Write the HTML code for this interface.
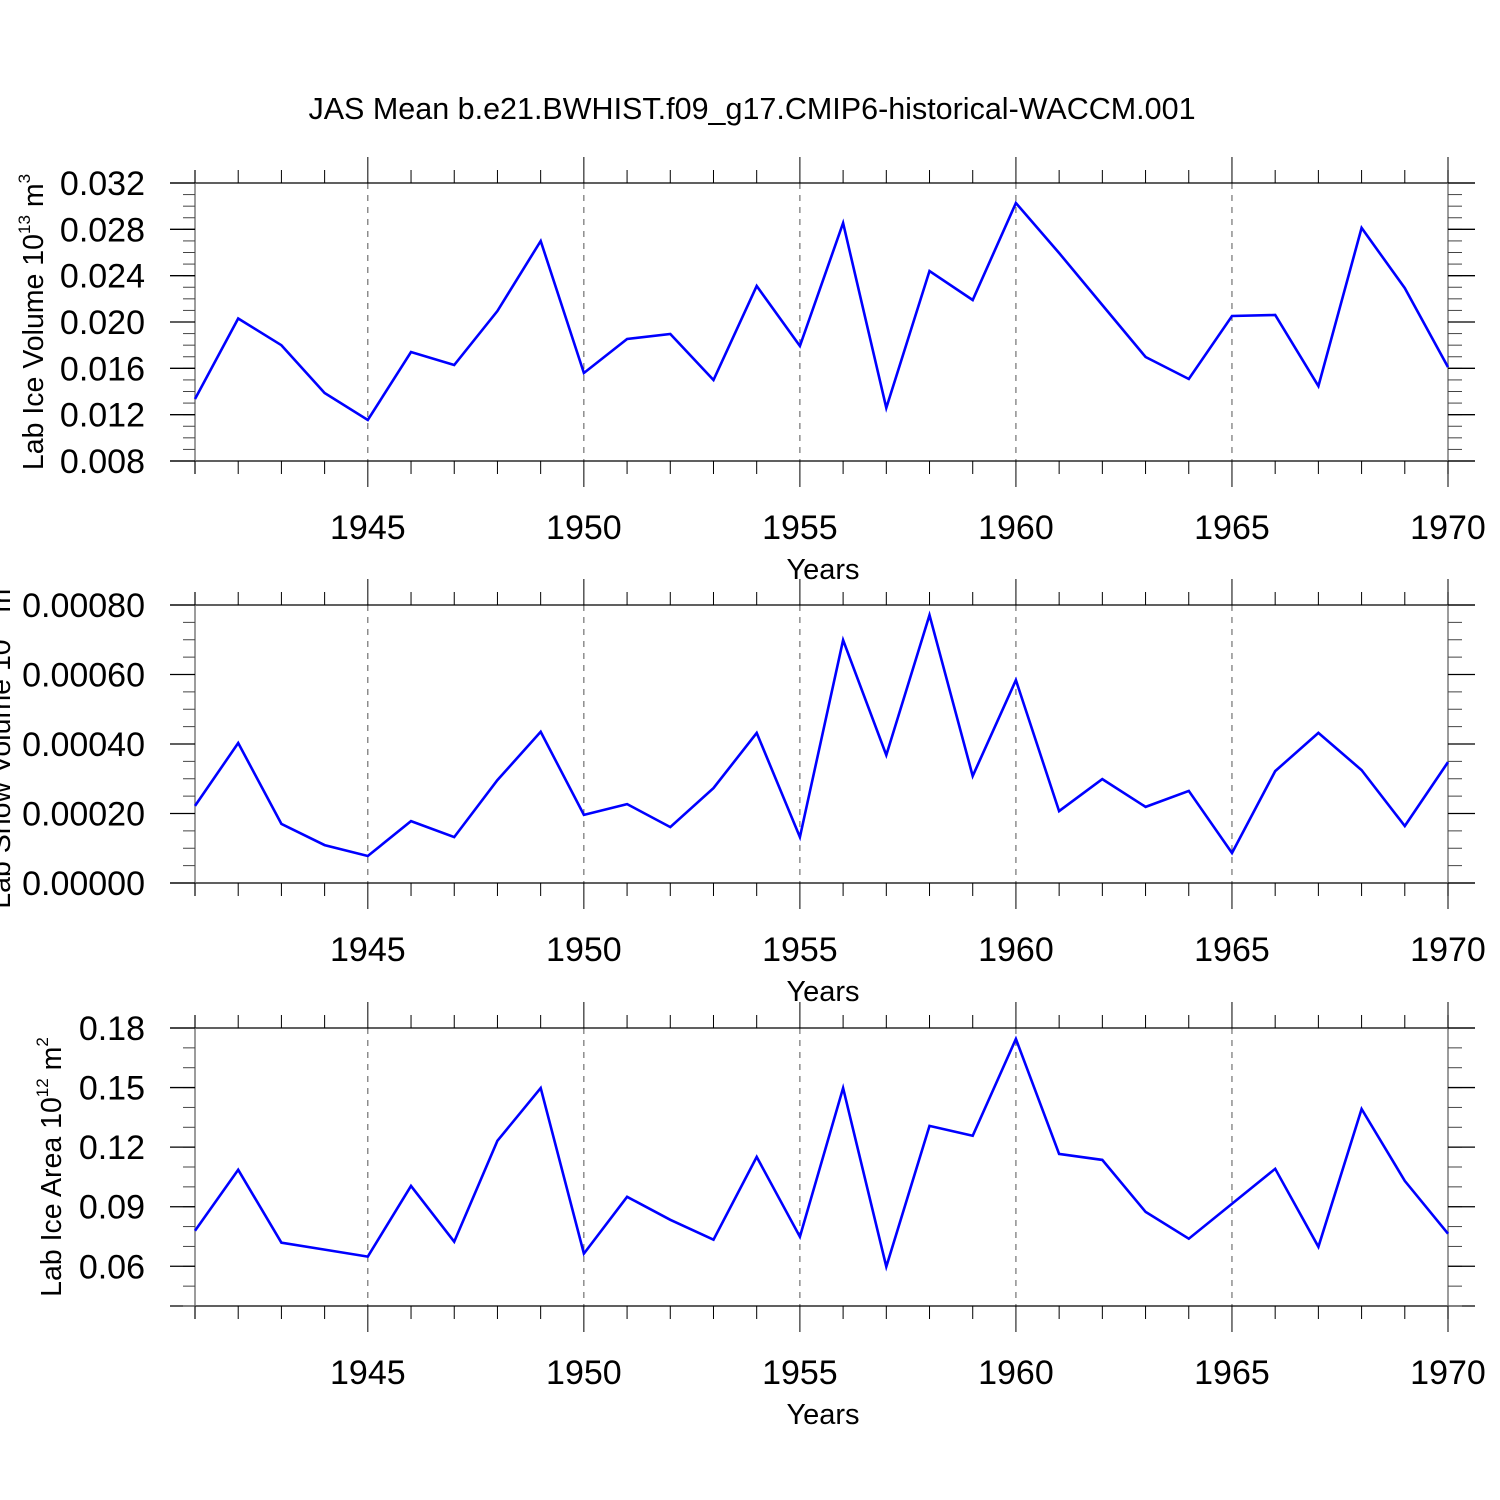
<!DOCTYPE html>
<html><head><meta charset="utf-8"><style>
html,body{margin:0;padding:0;background:#fff;}
svg{display:block;font-family:"Liberation Sans",Arial,sans-serif;}
</style></head><body>
<svg id="c" width="1500" height="1500" viewBox="0 0 1500 1500" xmlns="http://www.w3.org/2000/svg">
<text x="752" y="119" font-size="30.5" text-anchor="middle">JAS Mean b.e21.BWHIST.f09_g17.CMIP6-historical-WACCM.001</text>
</svg>
<script>
const years = [1941,1942,1943,1944,1945,1946,1947,1948,1949,1950,1951,1952,1953,1954,1955,1956,1957,1958,1959,1960,1961,1962,1963,1964,1965,1966,1967,1968,1969,1970];
const iceVolume = [0.01335,0.0203,0.0180,0.01387,0.01154,0.01741,0.01629,0.02095,0.02699,0.0156,0.01853,0.01896,0.01499,0.02311,0.01793,0.02855,0.01258,0.0244,0.0219,0.03027,0.02596,0.02147,0.01698,0.01508,0.02052,0.0206,0.01447,0.02812,0.02293,0.01611];
const snowVolume = [0.000222,0.000403,0.00017,0.000109,0.0000777,0.000178,0.000132,0.000296,0.000435,0.000196,0.000227,0.000161,0.000273,0.000432,0.000132,0.000699,0.000368,0.000771,0.000308,0.000584,0.000207,0.000299,0.000219,0.000265,0.0000863,0.000322,0.000432,0.000325,0.000164,0.000348];
const iceArea = [0.0779,0.1086,0.0719,0.0684,0.0649,0.1005,0.0724,0.1232,0.1498,0.0664,0.0950,0.0834,0.0734,0.1151,0.0749,0.1498,0.0598,0.1307,0.1257,0.1745,0.1166,0.1136,0.0874,0.0739,0.0915,0.1091,0.0698,0.1392,0.1030,0.0764];
const xTickLabels = ["1945","1950","1955","1960","1965","1970"];
const volTicks = ["0.032","0.028","0.024","0.020","0.016","0.012","0.008"];
const snowTicks = ["0.00080","0.00060","0.00040","0.00020","0.00000"];
const areaTicks = ["0.18","0.15","0.12","0.09","0.06"];

const NS="http://www.w3.org/2000/svg";
const svg=document.getElementById('c');
const L=195,R=1448,X0=1941,X1=1970;
const xs=v=>L+(v-X0)/(X1-X0)*(R-L);
function mk(tag,attrs,parent){const e=document.createElementNS(NS,tag);for(const k in attrs)e.setAttribute(k,attrs[k]);(parent||svg).appendChild(e);return e;}
function ln(g,x1,y1,x2,y2,extra){return mk('line',Object.assign({x1,y1,x2,y2,stroke:'#000','stroke-width':1.3},extra||{}),g);}

const panels=[
 {name:'ice-volume',top:183,bot:461,ymin:0.008,ymax:0.032,minor:0.001,ticks:volTicks,data:iceVolume,title:'Lab Ice Volume 10',sup:'13',unit:' m',usup:'3',tx:43,ty:322},
 {name:'snow-volume',top:605,bot:883,ymin:0,ymax:0.0008,minor:0.00005,ticks:snowTicks,data:snowVolume,title:'Lab Snow Volume 10',sup:'13',unit:' m',usup:'3',tx:10,ty:744},
 {name:'ice-area',top:1028,bot:1306,ymin:0.04,ymax:0.18,minor:0.01,ticks:areaTicks,data:iceArea,title:'Lab Ice Area 10',sup:'12',unit:' m',usup:'2',tx:61,ty:1167}
];
panels.forEach(p=>{
 const g=mk('g',{});
 
 
 const ys=v=>p.bot-(v-p.ymin)/(p.ymax-p.ymin)*(p.bot-p.top);
 for(let y=1945;y<1970;y+=5){
  const gl=ln(g,xs(y),p.top,xs(y),p.bot,{stroke:'#555','stroke-width':1,'stroke-dasharray':'6,6'});
  
  
 }
 ln(g,170,p.top,1475,p.top);ln(g,170,p.bot,1475,p.bot);
 ln(g,L,p.top-13,L,p.bot+13,{stroke:'#666'});ln(g,R,p.top-13,R,p.bot+13,{stroke:'#666'});
 years.forEach(y=>{
  const maj=(y%5===0);const x=xs(y);
  ln(g,x,p.top-(maj?26:13),x,p.top,{'stroke-width':1});
  ln(g,x,p.bot,x,p.bot+(maj?26:13),{'stroke-width':1});
 });
 const n=Math.round((p.ymax-p.ymin)/p.minor);
 for(let i=0;i<=n;i++){
  const y=p.bot-i*(p.bot-p.top)/n;
  ln(g,183,y,195,y,{'stroke-width':1,stroke:'#444'});
  ln(g,1448,y,1462,y,{'stroke-width':1,stroke:'#444'});
 }
 p.ticks.forEach(t=>{
  const v=parseFloat(t);const y=ys(v);
  ln(g,170,y,195,y);ln(g,1448,y,1475,y);
  const tx=mk('text',{x:145,y:y+12,'font-size':34,'text-anchor':'end'},g);
  tx.textContent=t;
  
  
 });
 xTickLabels.forEach(t=>{
  const tx=mk('text',{x:xs(+t),y:p.bot+78,'font-size':34,'text-anchor':'middle'},g);
  tx.textContent=t;
  
  
 });
 const xt=mk('text',{x:823,y:p.bot+118,'font-size':29,'text-anchor':'middle'},g);
 xt.textContent='Years';
 
 
 const yt=mk('text',{x:0,y:0,'font-size':28.5,'text-anchor':'middle',transform:`translate(${p.tx},${p.ty}) rotate(-90)`},g);
 
 
 yt.appendChild(document.createTextNode(p.title));
 const s1=mk('tspan',{'font-size':17,dy:-13},yt);s1.textContent=p.sup;
 const s2=mk('tspan',{dy:13},yt);s2.textContent=p.unit;
 const s3=mk('tspan',{'font-size':17,dy:-13},yt);s3.textContent=p.usup;
 const pts=p.data.map((v,i)=>xs(years[i]).toFixed(1)+','+ys(v).toFixed(1)).join(' ');
 const pl=mk('polyline',{points:pts,fill:'none',stroke:'#0000ff','stroke-width':2.6,'stroke-linejoin':'miter'},g);
 
 
});
</script>
</body></html>
